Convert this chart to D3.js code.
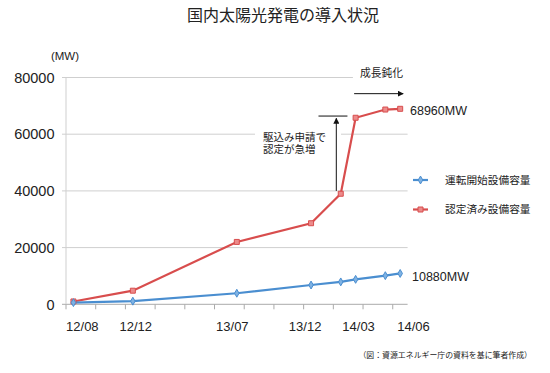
<!DOCTYPE html>
<html>
<head>
<meta charset="utf-8">
<script src="https://d3js.org/d3.v7.min.js"></script>
<title>国内太陽光発電の導入状況</title>
<style type="text/css">
body {
  margin: 0;
  background: #fff;
}
text {
  fill: #222;
}
.num {
  font-family: "Liberation Sans", Arial, sans-serif;
}
.jp {
  font-family: "Noto Sans CJK JP", sans-serif;
}
</style>
</head>
<body>
<svg id="chart"></svg>

<script>
// data (MW)
var months = ["12/08", "12/12", "13/07", "13/12", "14/02", "14/03", "14/05", "14/06"];
var operating = [600, 1100, 3900, 6800, 7900, 8800, 10100, 10880];
var certified = [1000, 4800, 22000, 28600, 39000, 65800, 68700, 68960];
var yTicks = [0, 20000, 40000, 60000, 80000];
var xLabels = ["12/08", "12/12", "13/07", "13/12", "14/03", "14/06"];
// where the x labels sit, in months from 12/08
var xLabelAt = [0.6, 4.2, 10.7, 15.6, 19.2, 22.9];
var seriesNames = ["運転開始設備容量", "認定済み設備容量"];
var noteLines = ["駆込み申請で", "認定が急増"];

var width = 550, height = 373;
var blue = "#4a8ed0", red = "#d84d4d";

function monthIndex(s) {
  var p = s.split("/");
  return (+p[0] - 12) * 12 + (+p[1]) - 8;
}

var x = d3.scaleLinear().domain([-0.5, 22.5]).range([66, 407.6]);
var y = d3.scaleLinear().domain([0, 80000]).range([304.3, 77.5]);

var svg = d3.select("#chart")
  .attr("width", width)
  .attr("height", height);

svg.append("rect")
  .attr("width", width)
  .attr("height", height)
  .attr("fill", "#fff");

svg.append("defs").append("marker")
  .attr("id", "head")
  .attr("viewBox", "0 0 10 10")
  .attr("refX", 9)
  .attr("refY", 5)
  .attr("markerWidth", 6)
  .attr("markerHeight", 6)
  .attr("markerUnits", "userSpaceOnUse")
  .attr("orient", "auto")
  .append("path")
  .attr("d", "M0,0L10,5L0,10z")
  .attr("fill", "#111");

// title
svg.append("text")
  .attr("class", "jp")
  .attr("x", 283)
  .attr("y", 21)
  .attr("text-anchor", "middle")
  .style("font-size", "16px")
  .text("国内太陽光発電の導入状況");

// gridlines
svg.append("g").selectAll("line")
  .data(yTicks)
  .enter().append("line")
  .attr("x1", x.range()[0] - 4)
  .attr("x2", x.range()[1])
  .attr("y1", function(d) { return y(d); })
  .attr("y2", function(d) { return y(d); })
  .attr("stroke", function(d) { return d === 0 ? "#aaa" : "#cfcfcf"; })
  .attr("stroke-width", 1);

// y axis line
svg.append("line")
  .attr("x1", x.range()[0]).attr("x2", x.range()[0])
  .attr("y1", y(80000)).attr("y2", y(0))
  .attr("stroke", "#cfcfcf");

// x ticks every two months
svg.append("g").selectAll("line")
  .data(d3.range(-0.5, 22, 2))
  .enter().append("line")
  .attr("x1", function(d) { return x(d); })
  .attr("x2", function(d) { return x(d); })
  .attr("y1", y(0))
  .attr("y2", y(0) + 5)
  .attr("stroke", "#aaa");

svg.append("g").selectAll("text")
  .data(yTicks)
  .enter().append("text")
  .attr("class", "num")
  .attr("x", 54.5)
  .attr("y", function(d) { return y(d); })
  .attr("dy", "0.36em")
  .attr("text-anchor", "end")
  .style("font-size", "14.5px")
  .text(function(d) { return d; });

svg.append("text")
  .attr("class", "num")
  .attr("x", 65)
  .attr("y", 56)
  .attr("dy", "0.35em")
  .attr("text-anchor", "middle")
  .style("font-size", "11.5px")
  .text("(MW)");

svg.append("g").selectAll("text")
  .data(xLabels)
  .enter().append("text")
  .attr("class", "num")
  .attr("x", function(d, i) { return x(xLabelAt[i]); })
  .attr("y", 326)
  .attr("dy", "0.35em")
  .attr("text-anchor", "middle")
  .style("font-size", "13px")
  .text(function(d) { return d; });

// annotations: surge of applications
var note = svg.append("g");
note.append("rect")
  .attr("x", 255)
  .attr("y", 128)
  .attr("width", 86)
  .attr("height", 30)
  .attr("fill", "#fff");
note.selectAll("text")
  .data(noteLines)
  .enter().append("text")
  .attr("class", "jp")
  .attr("x", 263)
  .attr("y", function(d, i) { return 137.2 + i * 12.4; })
  .attr("dy", "0.35em")
  .style("font-size", "10.5px")
  .text(function(d) { return d; });

note.append("line")
  .attr("x1", x(16.5)).attr("x2", x(18.45))
  .attr("y1", y(66400)).attr("y2", y(66400))
  .attr("stroke", "#111");
note.append("line")
  .attr("x1", x(17.7)).attr("x2", x(17.7))
  .attr("y1", y(40000)).attr("y2", y(65600))
  .attr("stroke", "#111")
  .attr("marker-end", "url(#head)");

var slow = svg.append("g");
var slowText = slow.append("text")
  .attr("class", "jp")
  .attr("x", 381.5)
  .attr("y", 73)
  .attr("dy", "0.35em")
  .attr("text-anchor", "middle")
  .style("font-size", "10.8px")
  .text("成長鈍化");
var sb = slowText.node().getBBox();
slow.insert("rect", "text")
  .attr("x", sb.x - 7)
  .attr("y", sb.y - 3)
  .attr("width", sb.width + 14)
  .attr("height", sb.height + 6)
  .attr("fill", "#fff");
slow.append("line")
  .attr("x1", x(18.9)).attr("x2", x(22.2))
  .attr("y1", y(74300)).attr("y2", y(74300))
  .attr("stroke", "#111")
  .attr("marker-end", "url(#head)");

// series
var line = d3.line()
  .x(function(d, i) { return x(monthIndex(months[i])); })
  .y(function(d) { return y(d); });

svg.append("path")
  .datum(certified)
  .attr("d", line)
  .attr("fill", "none")
  .attr("stroke", red)
  .attr("stroke-width", 2.2);

svg.append("path")
  .datum(operating)
  .attr("d", line)
  .attr("fill", "none")
  .attr("stroke", blue)
  .attr("stroke-width", 2.2);

var square = d3.symbol().type(d3.symbolSquare).size(25);
var diamond = d3.symbol().type(d3.symbolDiamond).size(18);

svg.append("g").selectAll("path")
  .data(certified)
  .enter().append("path")
  .attr("d", square)
  .attr("transform", function(d, i) {
    return "translate(" + x(monthIndex(months[i])) + "," + y(d) + ")";
  })
  .attr("fill", "#ec8b8b")
  .attr("stroke", red)
  .attr("stroke-width", 1);

svg.append("g").selectAll("path")
  .data(operating)
  .enter().append("path")
  .attr("d", diamond)
  .attr("transform", function(d, i) {
    return "translate(" + x(monthIndex(months[i])) + "," + y(d) + ")";
  })
  .attr("fill", "#7fb2e3")
  .attr("stroke", blue)
  .attr("stroke-width", 1);

// end labels
svg.append("text")
  .attr("class", "num")
  .attr("x", 410)
  .attr("y", y(certified[certified.length - 1]) + 2)
  .attr("dy", "0.35em")
  .style("font-size", "12.5px")
  .text(certified[certified.length - 1] + "MW");

svg.append("text")
  .attr("class", "num")
  .attr("x", 412)
  .attr("y", y(operating[operating.length - 1]) + 3)
  .attr("dy", "0.35em")
  .style("font-size", "12.5px")
  .text(operating[operating.length - 1] + "MW");

// legend
var legend = svg.append("g").selectAll("g")
  .data(seriesNames)
  .enter().append("g")
  .attr("transform", function(d, i) { return "translate(0," + (180 + i * 29.5) + ")"; });

legend.append("line")
  .attr("x1", 413).attr("x2", 428)
  .attr("stroke", function(d, i) { return i === 0 ? blue : red; })
  .attr("stroke-width", 2.2);
legend.append("path")
  .attr("d", function(d, i) { return i === 0 ? diamond() : square(); })
  .attr("transform", "translate(420.5,0)")
  .attr("fill", function(d, i) { return i === 0 ? "#7fb2e3" : "#ec8b8b"; })
  .attr("stroke", function(d, i) { return i === 0 ? blue : red; });
legend.append("text")
  .attr("class", "jp")
  .attr("x", 445)
  .attr("dy", "0.35em")
  .style("font-size", "10.7px")
  .text(function(d) { return d; });

// source
svg.append("text")
  .attr("class", "jp")
  .attr("x", 532)
  .attr("y", 355)
  .attr("dy", "0.35em")
  .attr("text-anchor", "end")
  .style("font-size", "7.9px")
  .text("（図：資源エネルギー庁の資料を基に筆者作成）");
</script>
</body>
</html>
